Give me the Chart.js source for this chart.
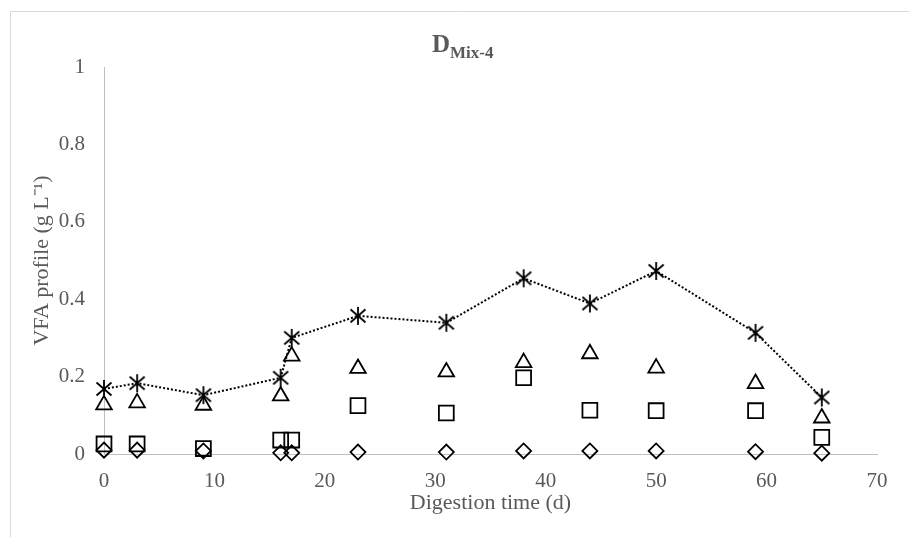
<!DOCTYPE html>
<html>
<head>
<meta charset="utf-8">
<script src="https://cdn.jsdelivr.net/npm/chart.js@4/dist/chart.umd.min.js"></script>
<style>
  html, body { margin: 0; padding: 0; background: #fff; }
  #wrap { width: 909px; height: 537px; position: relative; }
</style>
</head>
<body>
<div id="wrap"><canvas id="grafica" width="909" height="537"></canvas></div>
<script>
// digestion days and VFA values (g/L)
var days = [0, 3, 9, 16, 17, 23, 31, 38, 44, 50, 59, 65]
var totalVfa = [0.168, 0.183, 0.152, 0.197, 0.300, 0.357, 0.339, 0.454, 0.389, 0.473, 0.313, 0.146]
var vfaTriangle = [0.127, 0.132, 0.126, 0.150, 0.253, 0.221, 0.212, 0.236, 0.259, 0.222, 0.182, 0.093]
var vfaSquare = [0.026, 0.026, 0.014, 0.036, 0.036, 0.125, 0.106, 0.197, 0.113, 0.112, 0.112, 0.043]
var vfaDiamond = [0.010, 0.010, 0.008, 0.003, 0.003, 0.005, 0.005, 0.008, 0.008, 0.008, 0.006, 0.002]
var yTicks = [0, 0.2, 0.4, 0.6, 0.8, 1]
var xTicks = [0, 10, 20, 30, 40, 50, 60, 70]

const toPoints = (vals) => days.map((d, i) => ({x: d, y: vals[i]}))

// asterisk marker like the excel one: vertical bar plus an X
const star = document.createElement('canvas')
star.width = 20; star.height = 20
const s = star.getContext('2d')
s.strokeStyle = '#000'
s.lineWidth = 1.8
s.beginPath()
s.moveTo(10, 1); s.lineTo(10, 19)
s.moveTo(2.5, 3.5); s.lineTo(17.5, 16.5)
s.moveTo(17.5, 3.5); s.lineTo(2.5, 16.5)
s.stroke()

const serif = "'Liberation Serif', 'Times New Roman', serif"
const grey = '#595959'

// title with subscript + outer frame
const extras = {
  id: 'extras',
  afterDraw(chart) {
    const c = chart.ctx
    c.save()
    c.strokeStyle = '#d9d9d9'
    c.lineWidth = 1
    c.beginPath()
    c.moveTo(10.5, 537); c.lineTo(10.5, 11.5); c.lineTo(909, 11.5)
    c.stroke()
    c.fillStyle = grey
    c.textBaseline = 'alphabetic'
    c.font = 'bold 25px ' + serif
    c.fillText('D', 432, 52)
    c.font = 'bold 17px ' + serif
    c.fillText('Mix-4', 450, 58)
    c.restore()
  }
}

const marker = (style, r) => ({
  type: 'scatter',
  pointStyle: style,
  pointRadius: r,
  pointHoverRadius: r,
  pointBorderColor: '#000',
  pointBackgroundColor: 'rgba(0,0,0,0)',
  pointBorderWidth: 1.8,
  showLine: false,
  clip: false
})

var grafica = new Chart(document.getElementById('grafica'), {
  type: 'scatter',
  data: {
    datasets: [
      Object.assign({label: 'diamond', data: toPoints(vfaDiamond)}, marker('rectRot', 7.5)),
      Object.assign({label: 'square', data: toPoints(vfaSquare)}, marker('rect', 10.5)),
      Object.assign({label: 'triangle', data: toPoints(vfaTriangle)}, marker('triangle', 9)),
      {
        label: 'total',
        data: toPoints(totalVfa),
        showLine: true,
        borderColor: '#000',
        borderWidth: 2,
        borderDash: [2, 2],
        pointStyle: star,
        pointRadius: 10,
        clip: false
      }
    ]
  },
  options: {
    responsive: false,
    animation: false,
    devicePixelRatio: 1,
    layout: { padding: { left: 0, right: 32, top: 67, bottom: 0 } },
    plugins: { legend: { display: false }, tooltip: { enabled: false } },
    scales: {
      x: {
        type: 'linear',
        min: 0, max: 70,
        afterFit: (sc) => { sc.height = 83 },
        afterBuildTicks: (sc) => { sc.ticks = xTicks.map(v => ({value: v})) },
        grid: { display: false, drawTicks: false },
        border: { display: true, color: '#bfbfbf', width: 1 },
        ticks: { color: grey, font: { family: serif, size: 21 }, padding: 15 },
        title: {
          display: true, text: 'Digestion time (d)', color: grey,
          font: { family: serif, size: 22 }, padding: { top: 0, bottom: 21 }
        }
      },
      y: {
        min: 0, max: 1,
        afterFit: (sc) => { sc.width = 104 },
        afterBuildTicks: (sc) => { sc.ticks = yTicks.map(v => ({value: v})) },
        grid: { display: false, drawTicks: false },
        border: { display: true, color: '#bfbfbf', width: 1 },
        ticks: {
          color: grey, font: { family: serif, size: 21 }, padding: 19,
          callback: (v) => String(+v.toFixed(1))
        },
        title: {
          display: true, text: 'VFA profile (g L\u207B\u00B9)', color: grey,
          font: { family: serif, size: 22 }, padding: { top: 29, bottom: 0 }
        }
      }
    }
  },
  plugins: [extras]
})
</script>
</body>
</html>
